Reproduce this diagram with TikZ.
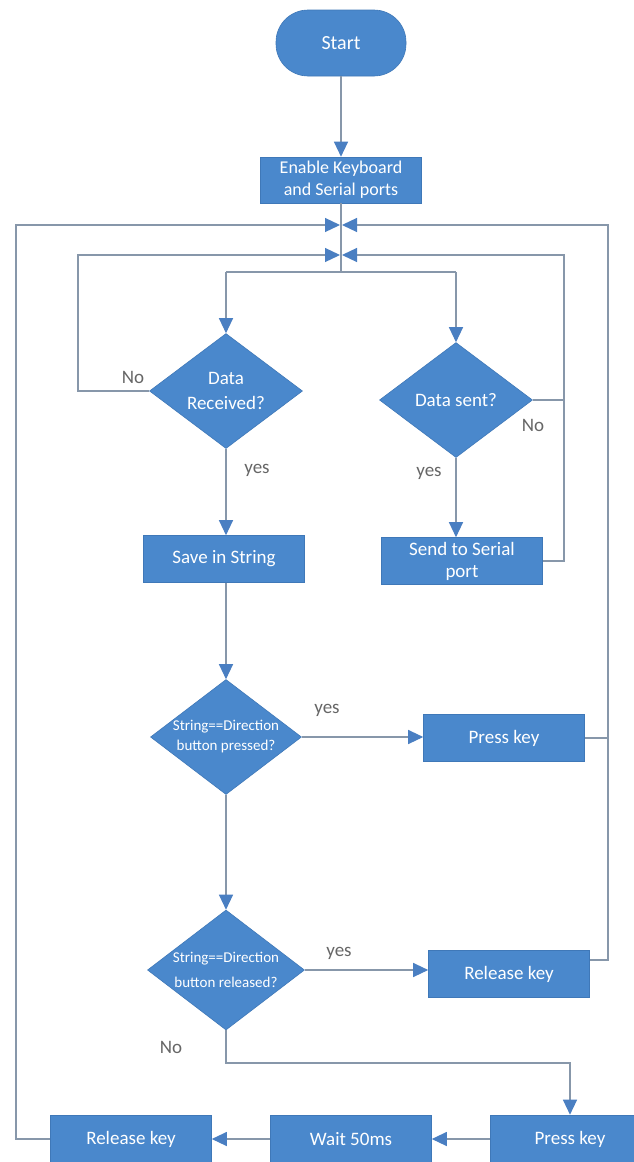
\documentclass[tikz,border=0pt]{standalone}
\usepackage{fontspec}
\setmainfont{Carlito}
\usetikzlibrary{arrows.meta,shapes.geometric}
\definecolor{boxblue}{HTML}{4A88CC}
\definecolor{edgeblue}{HTML}{3F78B8}
\definecolor{linegray}{HTML}{8797AA}
\definecolor{tipblue}{HTML}{4A7FC2}
\definecolor{labgray}{HTML}{666666}
\begin{document}
\begin{tikzpicture}[x=1pt,y=-1pt,
 box/.style={rectangle, fill=boxblue, draw=edgeblue, line width=0.6pt, text=white,
   font=\fontsize{19}{23}\selectfont, minimum width=161pt, minimum height=47pt, inner sep=0pt, align=center},
 dec/.style={diamond, fill=boxblue, draw=edgeblue, line width=0.6pt, text=white, inner sep=0pt,
   align=center, minimum width=153pt, minimum height=115pt, aspect=1.33},
 conn/.style={draw=linegray, line width=1.2pt},
 arr/.style={conn, -{Triangle[length=15pt,width=14pt,fill=tipblue,color=tipblue]}},
 lab/.style={text=labgray, font=\fontsize{19}{23}\selectfont, inner sep=0pt}]

\useasboundingbox[fill=white] (0,0) rectangle (634,1162);
\clip (0,0) rectangle (634,1162);

% nodes
\node[box, rounded corners=32pt, minimum width=130pt, minimum height=66pt,
      font=\fontsize{20}{24}\selectfont] (start) at (341,43) {Start};
\node[box, font=\fontsize{18}{22}\selectfont, minimum height=46pt] (enable) at (341,180) {Enable Keyboard\\and Serial ports};
\node[dec, font=\fontsize{19}{25}\selectfont] (dr) at (226,391) {Data\\Received?};
\node[dec, font=\fontsize{19}{25}\selectfont] (ds) at (456,400) {Data sent?};
\node[box] (save) at (224,559) {Save in String};
\node[box, font=\fontsize{19}{22}\selectfont] (send) at (462,561) {Send to Serial\\port};
\node[dec, minimum width=151pt, font=\fontsize{15}{20}\selectfont] (dp) at (226,737) {String==Direction\\button pressed?};
\node[box] (press1) at (504,738) {Press key};
\node[dec, minimum width=157pt, minimum height=120pt, font=\fontsize{15}{25}\selectfont] (drel) at (226,970) {String==Direction\\button released?};
\node[box] (rel1) at (509,974) {Release key};
\node[box, minimum width=160pt, minimum height=48pt] (press2) at (570,1139) {Press key};
\node[box, minimum height=48pt] (wait) at (351,1139) {Wait 50ms};
\node[box, minimum height=48pt] (rel2) at (131,1139) {Release key};

% junctions
\coordinate (j1) at (341,225);
\coordinate (j2) at (341,255);
\coordinate (j3) at (341,272);
\coordinate (bl) at (226,272);
\coordinate (br) at (456,272);
\coordinate (ol) at (16,225);
\coordinate (or) at (608,225);
\coordinate (il) at (78,255);
\coordinate (ir) at (564,255);
\coordinate (bend) at (226,1063);

% connectors
\draw[arr] (start) -- (enable);
\draw[conn] (enable.south) -- (j3);
\draw[conn] (bl) -- (br);
\draw[arr] (bl) -- (dr.north);
\draw[arr] (br) -- (ds.north);

\draw[arr, shorten >=1pt] (rel2.west) -| (ol) -- (j1);
\draw[arr, shorten >=1pt] ([yshift=14pt]rel1.east) -| (or) -- (j1);
\draw[conn] (press1.east) -- (press1.east -| or);

\draw[arr, shorten >=1pt] (dr.west) -| (il) -- (j2);
\draw[arr, shorten >=1pt] (send.east) -| (ir) -- (j2);
\draw[conn] (ds.east) -- (ds.east -| ir);

\draw[arr] (dr.south) -- (dr.south |- save.north);
\draw[arr] (ds.south) -- (ds.south |- send.north);
\draw[arr] (save.south -| dp.north) -- (dp.north);
\draw[arr] (dp.east) -- (dp.east -| press1.west);
\draw[arr] (dp.south) -- (drel.north);
\draw[arr] (drel.east) -- (drel.east -| rel1.west);
\draw[arr] (drel.south) -- (bend) -| (press2.north);
\draw[arr] (press2.west) -- (wait.east);
\draw[arr] (wait.west) -- (rel2.east);

% labels
\node[lab] (no1) at (133,377) {No};
\node[lab] (no2) at (533,425) {No};
\node[lab] (no3) at (171,1047) {No};
\node[lab] (yes1) at (257,470) {yes};
\node[lab] (yes2) at (429,473) {yes};
\node[lab] (yes3) at (327,710) {yes};
\node[lab] (yes4) at (339,953) {yes};
\end{tikzpicture}
\end{document}
